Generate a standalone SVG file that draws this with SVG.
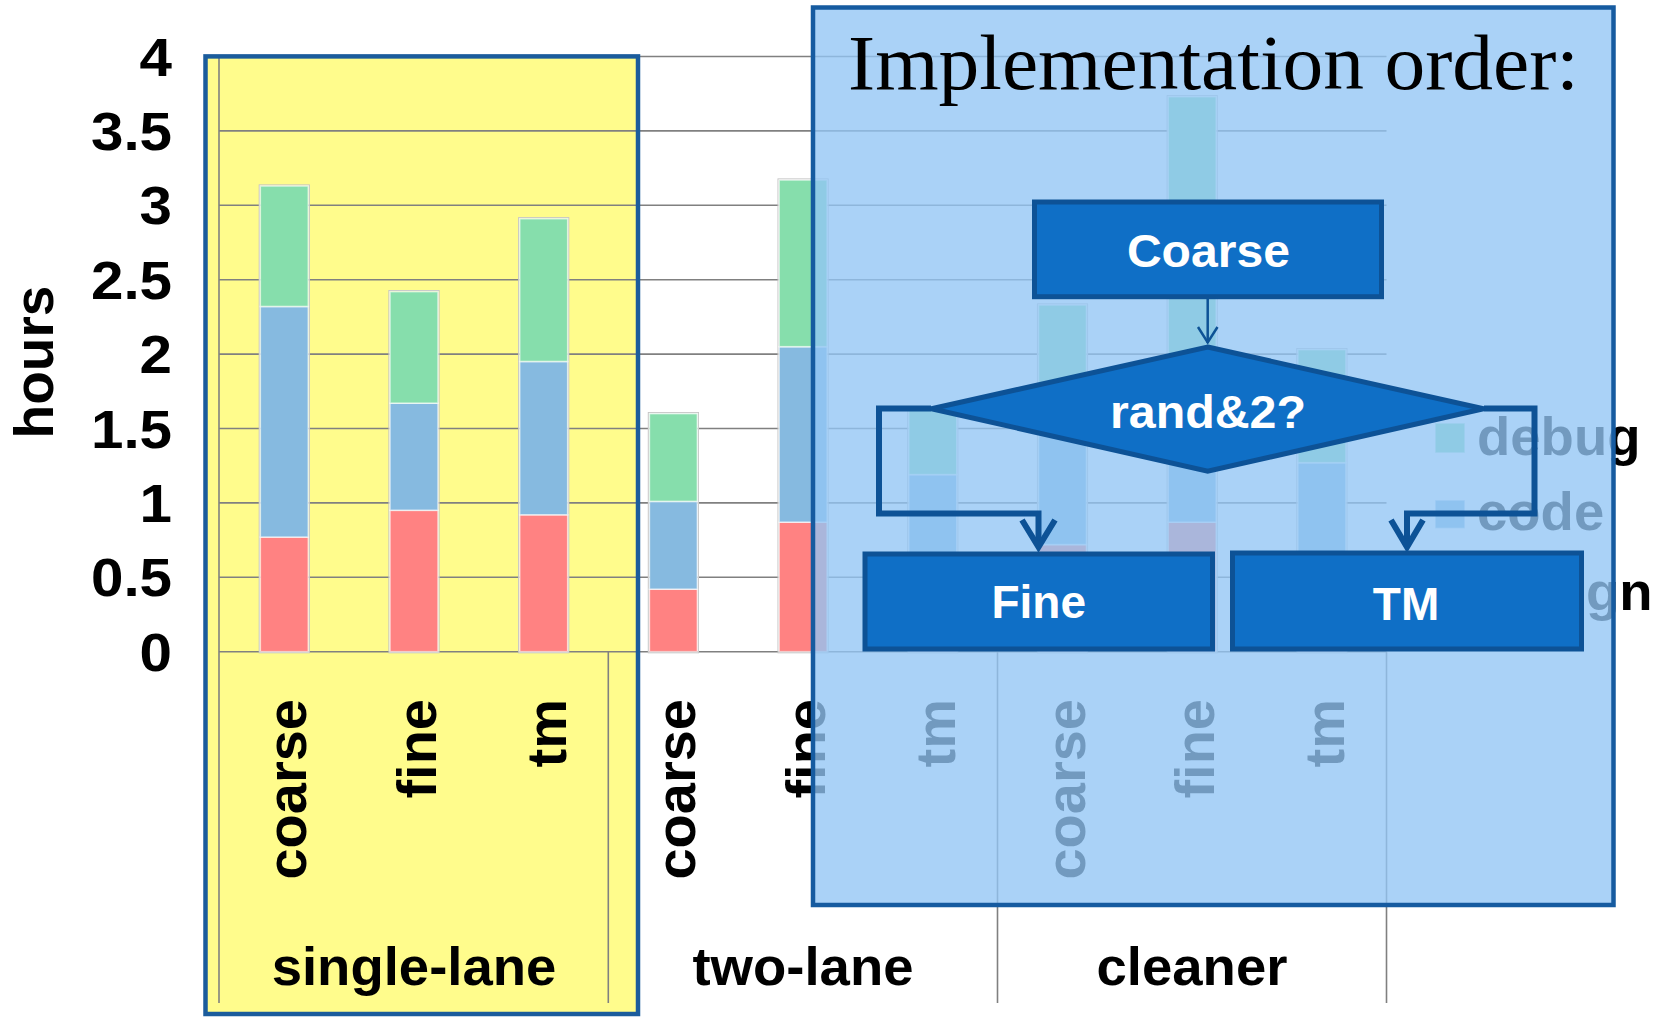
<svg xmlns="http://www.w3.org/2000/svg" width="1662" height="1017" viewBox="0 0 1662 1017">
<style>
.grid{stroke:#808080;stroke-width:1.6;fill:none}
.ax{font-family:"Liberation Sans",Arial,sans-serif;font-weight:bold;fill:#000}
.num{font-size:53px;text-anchor:end}
.cat{font-size:56px;text-anchor:end}
.grp{font-size:54.5px;text-anchor:middle}
.leg{font-size:54.5px}
.halo{fill:none;stroke:#C4C4C4;stroke-width:1.2}
.seg{stroke:#FFFFFF;stroke-opacity:0.6;stroke-width:1.6}
.g{fill:#86DEAC}.b{fill:#86BAE0}.r{fill:#FF8282}
.node{fill:#0F6FC6;stroke:#0D5296;stroke-width:5}
.ntxt{font-family:"Liberation Sans",Arial,sans-serif;font-weight:bold;font-size:46px;fill:#FFFFFF;text-anchor:middle}
.conn{fill:none;stroke:#0D5296;stroke-width:6;stroke-linejoin:miter}
</style>
<rect x="0" y="0" width="1662" height="1017" fill="#FFFFFF"/>
<g id="highlight-single-lane-fill">
<rect x="205.5" y="56.4" width="432.5" height="957.6" fill="#FFFC8C"/>
</g>
<g id="chart-grid">
<line class="grid" x1="219" y1="56.5" x2="1386.5" y2="56.5"/>
<line class="grid" x1="219" y1="130.9" x2="1386.5" y2="130.9"/>
<line class="grid" x1="219" y1="205.3" x2="1386.5" y2="205.3"/>
<line class="grid" x1="219" y1="279.7" x2="1386.5" y2="279.7"/>
<line class="grid" x1="219" y1="354.1" x2="1386.5" y2="354.1"/>
<line class="grid" x1="219" y1="428.5" x2="1386.5" y2="428.5"/>
<line class="grid" x1="219" y1="502.9" x2="1386.5" y2="502.9"/>
<line class="grid" x1="219" y1="577.3" x2="1386.5" y2="577.3"/>
<line class="grid" x1="219" y1="651.7" x2="1386.5" y2="651.7"/>
<line class="grid" x1="219" y1="56.5" x2="219" y2="1003"/>
<line class="grid" x1="608.3" y1="651.7" x2="608.3" y2="1003"/>
<line class="grid" x1="997.5" y1="651.7" x2="997.5" y2="1003"/>
<line class="grid" x1="1386.5" y1="651.7" x2="1386.5" y2="1003"/>
</g>
<g id="bars">
<g id="bar-single-coarse">
<rect class="halo" x="259.3" y="185" width="50" height="467.7"/>
<rect class="seg r" x="260.3" y="537.1" width="48" height="114.6"/>
<rect class="seg b" x="260.3" y="306.5" width="48" height="230.6"/>
<rect class="seg g" x="260.3" y="186" width="48" height="120.5"/>
</g>
<g id="bar-single-fine">
<rect class="halo" x="389" y="290.6" width="50" height="362.1"/>
<rect class="seg r" x="390" y="510.3" width="48" height="141.4"/>
<rect class="seg b" x="390" y="403.2" width="48" height="107.1"/>
<rect class="seg g" x="390" y="291.6" width="48" height="111.6"/>
</g>
<g id="bar-single-tm">
<rect class="halo" x="518.7" y="217.7" width="50" height="435"/>
<rect class="seg r" x="519.7" y="514.8" width="48" height="136.9"/>
<rect class="seg b" x="519.7" y="361.5" width="48" height="153.3"/>
<rect class="seg g" x="519.7" y="218.7" width="48" height="142.8"/>
</g>
<g id="bar-two-coarse">
<rect class="halo" x="648.4" y="412.6" width="50" height="240.1"/>
<rect class="seg r" x="649.4" y="589.2" width="48" height="62.5"/>
<rect class="seg b" x="649.4" y="501.4" width="48" height="87.8"/>
<rect class="seg g" x="649.4" y="413.6" width="48" height="87.8"/>
</g>
<g id="bar-two-fine">
<rect class="halo" x="778.1" y="179" width="50" height="473.7"/>
<rect class="seg r" x="779.1" y="522.2" width="48" height="129.5"/>
<rect class="seg b" x="779.1" y="346.7" width="48" height="175.5"/>
<rect class="seg g" x="779.1" y="180" width="48" height="166.7"/>
</g>
<g id="bar-two-tm">
<rect class="halo" x="907.8" y="408.2" width="50" height="244.5"/>
<rect class="seg r" x="908.8" y="569.9" width="48" height="81.8"/>
<rect class="seg b" x="908.8" y="474.6" width="48" height="95.3"/>
<rect class="seg g" x="908.8" y="409.2" width="48" height="65.4"/>
</g>
<g id="bar-cleaner-coarse">
<rect class="halo" x="1037.5" y="304" width="50" height="348.7"/>
<rect class="seg r" x="1038.5" y="544.6" width="48" height="107.1"/>
<rect class="seg b" x="1038.5" y="417.1" width="48" height="127.5"/>
<rect class="seg g" x="1038.5" y="305" width="48" height="112.1"/>
</g>
<g id="bar-cleaner-fine">
<rect class="halo" x="1167.2" y="95.7" width="50" height="557"/>
<rect class="seg r" x="1168.2" y="522.2" width="48" height="129.5"/>
<rect class="seg b" x="1168.2" y="398.7" width="48" height="123.5"/>
<rect class="seg g" x="1168.2" y="96.7" width="48" height="302"/>
</g>
<g id="bar-cleaner-tm">
<rect class="halo" x="1296.9" y="348.6" width="50" height="304.1"/>
<rect class="seg r" x="1297.9" y="562.4" width="48" height="89.3"/>
<rect class="seg b" x="1297.9" y="462.7" width="48" height="99.7"/>
<rect class="seg g" x="1297.9" y="349.6" width="48" height="113.1"/>
</g>
</g>
<g id="y-axis-labels" class="ax num">
<text transform="translate(172,75.5) scale(1.1,1)">4</text>
<text transform="translate(172,149.9) scale(1.1,1)">3.5</text>
<text transform="translate(172,224.3) scale(1.1,1)">3</text>
<text transform="translate(172,298.7) scale(1.1,1)">2.5</text>
<text transform="translate(172,373.1) scale(1.1,1)">2</text>
<text transform="translate(172,447.5) scale(1.1,1)">1.5</text>
<text transform="translate(172,521.9) scale(1.1,1)">1</text>
<text transform="translate(172,596.3) scale(1.1,1)">0.5</text>
<text transform="translate(172,670.7) scale(1.1,1)">0</text>
</g>
<g id="y-axis-title">
<text class="ax" font-size="55" text-anchor="middle" transform="translate(52.6,362) rotate(-90)">hours</text>
</g>
<g id="category-labels" class="ax cat">
<text transform="translate(306.3,699) rotate(-90)">coarse</text>
<text transform="translate(436,699) rotate(-90)">fine</text>
<text transform="translate(565.7,699) rotate(-90)">tm</text>
<text transform="translate(695.4,699) rotate(-90)">coarse</text>
<text transform="translate(825.1,699) rotate(-90)">fine</text>
<text transform="translate(954.8,699) rotate(-90)">tm</text>
<text transform="translate(1084.5,699) rotate(-90)">coarse</text>
<text transform="translate(1214.2,699) rotate(-90)">fine</text>
<text transform="translate(1343.9,699) rotate(-90)">tm</text>
</g>
<g id="group-labels" class="ax grp">
<text x="414" y="985">single-lane</text>
<text x="803" y="985">two-lane</text>
<text x="1192" y="985">cleaner</text>
</g>
<g id="legend">
<rect class="seg g" x="1435" y="423" width="30" height="30"/>
<text class="ax leg" x="1477" y="455">debug</text>
<rect class="seg b" x="1435" y="500" width="30" height="28.5"/>
<text class="ax leg" x="1477" y="530">code</text>
<rect class="seg r" x="1435" y="578" width="30" height="29"/>
<text class="ax leg" x="1477" y="610">design</text>
</g>
<g id="highlight-single-lane-border">
<rect x="205.5" y="56.4" width="432.5" height="957.6" fill="none" stroke="#1B5C9C" stroke-width="4.5"/>
</g>
<g id="implementation-panel">
<rect x="813" y="7.5" width="800.5" height="897.5" fill="rgb(146,197,245)" fill-opacity="0.78" stroke="#165BA0" stroke-width="4.5"/>
<text x="848" y="89" font-family="'Liberation Serif','Times New Roman',serif" font-size="79" textLength="731" lengthAdjust="spacingAndGlyphs" fill="#000">Implementation order:</text>
</g>
<g id="connectors">
<line x1="1207.7" y1="299" x2="1207.7" y2="343" stroke="#0D5296" stroke-width="2.5"/>
<polyline points="1198,327 1207.7,342.5 1217.5,327" fill="none" stroke="#0D5296" stroke-width="2.5"/>
<polyline class="conn" points="931,408.5 879,408.5 879,513.5 1038.5,513.5 1038.5,546"/>
<polyline class="conn" points="1022,520 1038.5,547 1055,520"/>
<polyline class="conn" points="1484,408.5 1534.5,408.5 1534.5,513.5 1407,513.5 1407,546"/>
<polyline class="conn" points="1391,520 1407,547 1423,520"/>
</g>
<g id="node-coarse">
<rect class="node" x="1034.5" y="202" width="347" height="94.7"/>
<text class="ntxt" x="1208.4" y="266.7" textLength="163" lengthAdjust="spacingAndGlyphs">Coarse</text>
</g>
<g id="node-decision">
<polygon class="node" points="1207.7,347 1483.5,408.7 1207.7,471.2 931.5,408.7"/>
<text class="ntxt" x="1208" y="427.7" font-size="45" textLength="196" lengthAdjust="spacingAndGlyphs">rand&amp;2?</text>
</g>
<g id="node-fine">
<rect class="node" x="865" y="554" width="347.5" height="95"/>
<text class="ntxt" x="1038.7" y="618">Fine</text>
</g>
<g id="node-tm">
<rect class="node" x="1232.5" y="553" width="349" height="96"/>
<text class="ntxt" x="1406" y="619.5">TM</text>
</g>
</svg>
